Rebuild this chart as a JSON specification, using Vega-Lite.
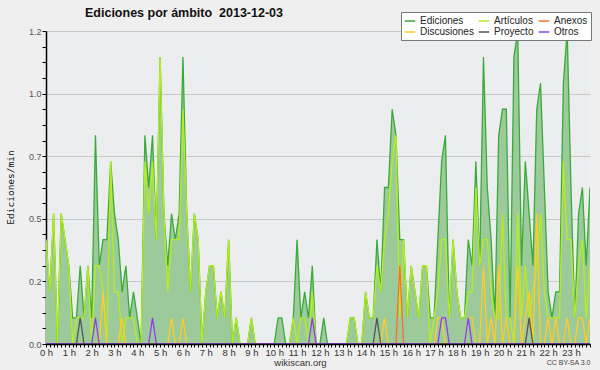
{
"$schema": "https://vega.github.io/schema/vega-lite/v6.json",
"width": 544, "height": 313,
"autosize": {"type": "none"},
"padding": {"left": 46, "top": 31, "right": 10, "bottom": 26},
"background": "#efefef",
"view": {"fill": "#ecedef", "stroke": null},
"title": {"text": "Ediciones por ámbito\u00a0 2013-12-03", "anchor": "start", "frame": "group", "dx": 39, "offset": -8, "font": "Liberation Sans", "fontSize": 12.5, "fontWeight": "bold", "color": "#111"},
"config": {"font": "Liberation Sans"},
"data": {"values": [
{"m":0,"Ediciones":0.4,"Artículos":0.4,"Discusiones":0,"Anexos":0,"Proyecto":0,"Otros":0},
{"m":10,"Ediciones":0.2,"Artículos":0.2,"Discusiones":0,"Anexos":0,"Proyecto":0,"Otros":0},
{"m":20,"Ediciones":0.5,"Artículos":0.5,"Discusiones":0,"Anexos":0,"Proyecto":0,"Otros":0},
{"m":30,"Ediciones":0,"Artículos":0,"Discusiones":0,"Anexos":0,"Proyecto":0,"Otros":0},
{"m":40,"Ediciones":0.5,"Artículos":0.5,"Discusiones":0,"Anexos":0,"Proyecto":0,"Otros":0},
{"m":50,"Ediciones":0.4,"Artículos":0.4,"Discusiones":0,"Anexos":0,"Proyecto":0,"Otros":0},
{"m":60,"Ediciones":0.3,"Artículos":0.3,"Discusiones":0,"Anexos":0,"Proyecto":0,"Otros":0},
{"m":70,"Ediciones":0.1,"Artículos":0,"Discusiones":0,"Anexos":0,"Proyecto":0,"Otros":0},
{"m":80,"Ediciones":0.1,"Artículos":0.1,"Discusiones":0,"Anexos":0,"Proyecto":0,"Otros":0},
{"m":90,"Ediciones":0.3,"Artículos":0.1,"Discusiones":0,"Anexos":0,"Proyecto":0.1,"Otros":0},
{"m":100,"Ediciones":0.1,"Artículos":0.1,"Discusiones":0,"Anexos":0,"Proyecto":0,"Otros":0},
{"m":110,"Ediciones":0.3,"Artículos":0.3,"Discusiones":0,"Anexos":0,"Proyecto":0,"Otros":0},
{"m":120,"Ediciones":0.1,"Artículos":0,"Discusiones":0,"Anexos":0,"Proyecto":0,"Otros":0},
{"m":130,"Ediciones":0.8,"Artículos":0.3,"Discusiones":0,"Anexos":0,"Proyecto":0,"Otros":0.1},
{"m":140,"Ediciones":0.3,"Artículos":0.3,"Discusiones":0,"Anexos":0,"Proyecto":0,"Otros":0},
{"m":150,"Ediciones":0.4,"Artículos":0.2,"Discusiones":0.2,"Anexos":0,"Proyecto":0,"Otros":0},
{"m":160,"Ediciones":0.4,"Artículos":0,"Discusiones":0,"Anexos":0,"Proyecto":0,"Otros":0},
{"m":170,"Ediciones":0.7,"Artículos":0.7,"Discusiones":0,"Anexos":0,"Proyecto":0,"Otros":0},
{"m":180,"Ediciones":0.5,"Artículos":0.2,"Discusiones":0,"Anexos":0,"Proyecto":0,"Otros":0},
{"m":190,"Ediciones":0.4,"Artículos":0.2,"Discusiones":0,"Anexos":0,"Proyecto":0,"Otros":0},
{"m":200,"Ediciones":0.2,"Artículos":0,"Discusiones":0.1,"Anexos":0,"Proyecto":0,"Otros":0},
{"m":210,"Ediciones":0.3,"Artículos":0.1,"Discusiones":0,"Anexos":0,"Proyecto":0,"Otros":0},
{"m":220,"Ediciones":0.1,"Artículos":0.1,"Discusiones":0,"Anexos":0,"Proyecto":0,"Otros":0},
{"m":230,"Ediciones":0.2,"Artículos":0.1,"Discusiones":0,"Anexos":0,"Proyecto":0,"Otros":0},
{"m":240,"Ediciones":0.1,"Artículos":0,"Discusiones":0,"Anexos":0,"Proyecto":0,"Otros":0},
{"m":250,"Ediciones":0,"Artículos":0,"Discusiones":0,"Anexos":0,"Proyecto":0,"Otros":0},
{"m":260,"Ediciones":0.8,"Artículos":0.7,"Discusiones":0,"Anexos":0,"Proyecto":0,"Otros":0},
{"m":270,"Ediciones":0.6,"Artículos":0.5,"Discusiones":0,"Anexos":0,"Proyecto":0,"Otros":0},
{"m":280,"Ediciones":0.8,"Artículos":0.7,"Discusiones":0,"Anexos":0,"Proyecto":0,"Otros":0.1},
{"m":290,"Ediciones":0.4,"Artículos":0.4,"Discusiones":0,"Anexos":0,"Proyecto":0,"Otros":0},
{"m":300,"Ediciones":1.1,"Artículos":1.1,"Discusiones":0,"Anexos":0,"Proyecto":0,"Otros":0},
{"m":310,"Ediciones":0.5,"Artículos":0.5,"Discusiones":0,"Anexos":0,"Proyecto":0,"Otros":0},
{"m":320,"Ediciones":0.3,"Artículos":0.2,"Discusiones":0,"Anexos":0,"Proyecto":0,"Otros":0},
{"m":330,"Ediciones":0.5,"Artículos":0.4,"Discusiones":0.1,"Anexos":0,"Proyecto":0,"Otros":0},
{"m":340,"Ediciones":0.4,"Artículos":0.4,"Discusiones":0,"Anexos":0,"Proyecto":0,"Otros":0},
{"m":350,"Ediciones":0.5,"Artículos":0.4,"Discusiones":0,"Anexos":0,"Proyecto":0,"Otros":0},
{"m":360,"Ediciones":1.1,"Artículos":0.9,"Discusiones":0.1,"Anexos":0,"Proyecto":0,"Otros":0},
{"m":370,"Ediciones":0.5,"Artículos":0.5,"Discusiones":0,"Anexos":0,"Proyecto":0,"Otros":0},
{"m":380,"Ediciones":0.2,"Artículos":0.2,"Discusiones":0,"Anexos":0,"Proyecto":0,"Otros":0},
{"m":390,"Ediciones":0.5,"Artículos":0.5,"Discusiones":0,"Anexos":0,"Proyecto":0,"Otros":0},
{"m":400,"Ediciones":0.4,"Artículos":0.4,"Discusiones":0,"Anexos":0,"Proyecto":0,"Otros":0},
{"m":410,"Ediciones":0,"Artículos":0,"Discusiones":0,"Anexos":0,"Proyecto":0,"Otros":0},
{"m":420,"Ediciones":0.2,"Artículos":0.2,"Discusiones":0,"Anexos":0,"Proyecto":0,"Otros":0},
{"m":430,"Ediciones":0.3,"Artículos":0.3,"Discusiones":0,"Anexos":0,"Proyecto":0,"Otros":0},
{"m":440,"Ediciones":0.3,"Artículos":0.3,"Discusiones":0,"Anexos":0,"Proyecto":0,"Otros":0},
{"m":450,"Ediciones":0.1,"Artículos":0.1,"Discusiones":0,"Anexos":0,"Proyecto":0,"Otros":0},
{"m":460,"Ediciones":0.2,"Artículos":0.2,"Discusiones":0,"Anexos":0,"Proyecto":0,"Otros":0},
{"m":470,"Ediciones":0.1,"Artículos":0.1,"Discusiones":0,"Anexos":0,"Proyecto":0,"Otros":0},
{"m":480,"Ediciones":0.4,"Artículos":0.4,"Discusiones":0,"Anexos":0,"Proyecto":0,"Otros":0},
{"m":490,"Ediciones":0,"Artículos":0,"Discusiones":0,"Anexos":0,"Proyecto":0,"Otros":0},
{"m":500,"Ediciones":0.1,"Artículos":0.1,"Discusiones":0,"Anexos":0,"Proyecto":0,"Otros":0},
{"m":510,"Ediciones":0,"Artículos":0,"Discusiones":0,"Anexos":0,"Proyecto":0,"Otros":0},
{"m":520,"Ediciones":0,"Artículos":0,"Discusiones":0,"Anexos":0,"Proyecto":0,"Otros":0},
{"m":530,"Ediciones":0,"Artículos":0,"Discusiones":0,"Anexos":0,"Proyecto":0,"Otros":0},
{"m":540,"Ediciones":0.1,"Artículos":0.1,"Discusiones":0,"Anexos":0,"Proyecto":0,"Otros":0},
{"m":550,"Ediciones":0,"Artículos":0,"Discusiones":0,"Anexos":0,"Proyecto":0,"Otros":0},
{"m":560,"Ediciones":0,"Artículos":0,"Discusiones":0,"Anexos":0,"Proyecto":0,"Otros":0},
{"m":570,"Ediciones":0,"Artículos":0,"Discusiones":0,"Anexos":0,"Proyecto":0,"Otros":0},
{"m":580,"Ediciones":0,"Artículos":0,"Discusiones":0,"Anexos":0,"Proyecto":0,"Otros":0},
{"m":590,"Ediciones":0,"Artículos":0,"Discusiones":0,"Anexos":0,"Proyecto":0,"Otros":0},
{"m":600,"Ediciones":0,"Artículos":0,"Discusiones":0,"Anexos":0,"Proyecto":0,"Otros":0},
{"m":610,"Ediciones":0.1,"Artículos":0,"Discusiones":0,"Anexos":0,"Proyecto":0,"Otros":0},
{"m":620,"Ediciones":0.1,"Artículos":0,"Discusiones":0,"Anexos":0,"Proyecto":0,"Otros":0},
{"m":630,"Ediciones":0,"Artículos":0,"Discusiones":0,"Anexos":0,"Proyecto":0,"Otros":0},
{"m":640,"Ediciones":0,"Artículos":0,"Discusiones":0,"Anexos":0,"Proyecto":0,"Otros":0},
{"m":650,"Ediciones":0.1,"Artículos":0.1,"Discusiones":0,"Anexos":0,"Proyecto":0,"Otros":0},
{"m":660,"Ediciones":0.4,"Artículos":0,"Discusiones":0,"Anexos":0,"Proyecto":0,"Otros":0},
{"m":670,"Ediciones":0.1,"Artículos":0.1,"Discusiones":0,"Anexos":0,"Proyecto":0,"Otros":0},
{"m":680,"Ediciones":0.2,"Artículos":0.1,"Discusiones":0,"Anexos":0,"Proyecto":0,"Otros":0},
{"m":690,"Ediciones":0.1,"Artículos":0,"Discusiones":0,"Anexos":0,"Proyecto":0,"Otros":0},
{"m":700,"Ediciones":0.3,"Artículos":0.2,"Discusiones":0,"Anexos":0,"Proyecto":0,"Otros":0.1},
{"m":710,"Ediciones":0,"Artículos":0,"Discusiones":0,"Anexos":0,"Proyecto":0,"Otros":0},
{"m":720,"Ediciones":0,"Artículos":0,"Discusiones":0,"Anexos":0,"Proyecto":0,"Otros":0},
{"m":730,"Ediciones":0.1,"Artículos":0,"Discusiones":0,"Anexos":0,"Proyecto":0,"Otros":0},
{"m":740,"Ediciones":0,"Artículos":0,"Discusiones":0,"Anexos":0,"Proyecto":0,"Otros":0},
{"m":750,"Ediciones":0,"Artículos":0,"Discusiones":0,"Anexos":0,"Proyecto":0,"Otros":0},
{"m":760,"Ediciones":0,"Artículos":0,"Discusiones":0,"Anexos":0,"Proyecto":0,"Otros":0},
{"m":770,"Ediciones":0,"Artículos":0,"Discusiones":0,"Anexos":0,"Proyecto":0,"Otros":0},
{"m":780,"Ediciones":0,"Artículos":0,"Discusiones":0,"Anexos":0,"Proyecto":0,"Otros":0},
{"m":790,"Ediciones":0,"Artículos":0,"Discusiones":0,"Anexos":0,"Proyecto":0,"Otros":0},
{"m":800,"Ediciones":0.1,"Artículos":0.1,"Discusiones":0,"Anexos":0,"Proyecto":0,"Otros":0},
{"m":810,"Ediciones":0.1,"Artículos":0.1,"Discusiones":0,"Anexos":0,"Proyecto":0,"Otros":0},
{"m":820,"Ediciones":0,"Artículos":0,"Discusiones":0,"Anexos":0,"Proyecto":0,"Otros":0},
{"m":830,"Ediciones":0,"Artículos":0,"Discusiones":0,"Anexos":0,"Proyecto":0,"Otros":0},
{"m":840,"Ediciones":0.2,"Artículos":0.2,"Discusiones":0,"Anexos":0,"Proyecto":0,"Otros":0},
{"m":850,"Ediciones":0.1,"Artículos":0.1,"Discusiones":0,"Anexos":0,"Proyecto":0,"Otros":0},
{"m":860,"Ediciones":0.1,"Artículos":0.1,"Discusiones":0,"Anexos":0,"Proyecto":0,"Otros":0},
{"m":870,"Ediciones":0.4,"Artículos":0.3,"Discusiones":0,"Anexos":0,"Proyecto":0.1,"Otros":0},
{"m":880,"Ediciones":0.2,"Artículos":0.2,"Discusiones":0,"Anexos":0,"Proyecto":0,"Otros":0},
{"m":890,"Ediciones":0.6,"Artículos":0.4,"Discusiones":0.1,"Anexos":0,"Proyecto":0,"Otros":0},
{"m":900,"Ediciones":0.6,"Artículos":0.5,"Discusiones":0,"Anexos":0,"Proyecto":0,"Otros":0},
{"m":910,"Ediciones":0.9,"Artículos":0.7,"Discusiones":0,"Anexos":0,"Proyecto":0,"Otros":0},
{"m":920,"Ediciones":0.8,"Artículos":0.8,"Discusiones":0,"Anexos":0,"Proyecto":0,"Otros":0},
{"m":930,"Ediciones":0.4,"Artículos":0.1,"Discusiones":0,"Anexos":0.3,"Proyecto":0,"Otros":0},
{"m":940,"Ediciones":0.4,"Artículos":0.4,"Discusiones":0,"Anexos":0,"Proyecto":0,"Otros":0},
{"m":950,"Ediciones":0.1,"Artículos":0.1,"Discusiones":0,"Anexos":0,"Proyecto":0,"Otros":0},
{"m":960,"Ediciones":0.3,"Artículos":0.3,"Discusiones":0,"Anexos":0,"Proyecto":0,"Otros":0},
{"m":970,"Ediciones":0.2,"Artículos":0.2,"Discusiones":0,"Anexos":0,"Proyecto":0,"Otros":0},
{"m":980,"Ediciones":0.1,"Artículos":0.1,"Discusiones":0,"Anexos":0,"Proyecto":0,"Otros":0},
{"m":990,"Ediciones":0.3,"Artículos":0.3,"Discusiones":0,"Anexos":0,"Proyecto":0,"Otros":0},
{"m":1000,"Ediciones":0.3,"Artículos":0.3,"Discusiones":0,"Anexos":0,"Proyecto":0,"Otros":0},
{"m":1010,"Ediciones":0.1,"Artículos":0,"Discusiones":0,"Anexos":0,"Proyecto":0,"Otros":0},
{"m":1020,"Ediciones":0.1,"Artículos":0.1,"Discusiones":0,"Anexos":0,"Proyecto":0,"Otros":0},
{"m":1030,"Ediciones":0.4,"Artículos":0.2,"Discusiones":0.1,"Anexos":0,"Proyecto":0,"Otros":0},
{"m":1040,"Ediciones":0.7,"Artículos":0.4,"Discusiones":0.1,"Anexos":0,"Proyecto":0,"Otros":0.1},
{"m":1050,"Ediciones":0.8,"Artículos":0.4,"Discusiones":0,"Anexos":0,"Proyecto":0,"Otros":0.1},
{"m":1060,"Ediciones":0.1,"Artículos":0.1,"Discusiones":0,"Anexos":0,"Proyecto":0,"Otros":0},
{"m":1070,"Ediciones":0.4,"Artículos":0.4,"Discusiones":0,"Anexos":0,"Proyecto":0,"Otros":0},
{"m":1080,"Ediciones":0.2,"Artículos":0.2,"Discusiones":0,"Anexos":0,"Proyecto":0,"Otros":0},
{"m":1090,"Ediciones":0.1,"Artículos":0.1,"Discusiones":0,"Anexos":0,"Proyecto":0,"Otros":0},
{"m":1100,"Ediciones":0.1,"Artículos":0.1,"Discusiones":0,"Anexos":0,"Proyecto":0,"Otros":0},
{"m":1110,"Ediciones":0.4,"Artículos":0.2,"Discusiones":0.1,"Anexos":0,"Proyecto":0,"Otros":0.1},
{"m":1120,"Ediciones":0.3,"Artículos":0.2,"Discusiones":0.1,"Anexos":0,"Proyecto":0,"Otros":0},
{"m":1130,"Ediciones":0.7,"Artículos":0.6,"Discusiones":0,"Anexos":0,"Proyecto":0,"Otros":0},
{"m":1140,"Ediciones":0.3,"Artículos":0.3,"Discusiones":0,"Anexos":0,"Proyecto":0,"Otros":0},
{"m":1150,"Ediciones":1.1,"Artículos":0.4,"Discusiones":0.3,"Anexos":0,"Proyecto":0,"Otros":0},
{"m":1160,"Ediciones":0.6,"Artículos":0.4,"Discusiones":0,"Anexos":0,"Proyecto":0,"Otros":0},
{"m":1170,"Ediciones":0.4,"Artículos":0.2,"Discusiones":0.1,"Anexos":0,"Proyecto":0,"Otros":0},
{"m":1180,"Ediciones":0.1,"Artículos":0.1,"Discusiones":0,"Anexos":0,"Proyecto":0,"Otros":0},
{"m":1190,"Ediciones":0.8,"Artículos":0.1,"Discusiones":0.3,"Anexos":0,"Proyecto":0,"Otros":0},
{"m":1200,"Ediciones":0.9,"Artículos":0.5,"Discusiones":0,"Anexos":0,"Proyecto":0,"Otros":0},
{"m":1210,"Ediciones":0.9,"Artículos":0.1,"Discusiones":0.1,"Anexos":0,"Proyecto":0,"Otros":0},
{"m":1220,"Ediciones":0.1,"Artículos":0.1,"Discusiones":0,"Anexos":0,"Proyecto":0,"Otros":0},
{"m":1230,"Ediciones":1.1,"Artículos":0,"Discusiones":0,"Anexos":0,"Proyecto":0,"Otros":0},
{"m":1240,"Ediciones":1.2,"Artículos":0.5,"Discusiones":0.3,"Anexos":0,"Proyecto":0,"Otros":0},
{"m":1250,"Ediciones":0.3,"Artículos":0.1,"Discusiones":0,"Anexos":0,"Proyecto":0,"Otros":0},
{"m":1260,"Ediciones":0.7,"Artículos":0.3,"Discusiones":0.1,"Anexos":0,"Proyecto":0,"Otros":0},
{"m":1270,"Ediciones":0.5,"Artículos":0.1,"Discusiones":0.2,"Anexos":0,"Proyecto":0.1,"Otros":0},
{"m":1280,"Ediciones":0.3,"Artículos":0.2,"Discusiones":0,"Anexos":0,"Proyecto":0,"Otros":0},
{"m":1290,"Ediciones":0.9,"Artículos":0.3,"Discusiones":0.5,"Anexos":0,"Proyecto":0,"Otros":0},
{"m":1300,"Ediciones":1.0,"Artículos":0.5,"Discusiones":0,"Anexos":0,"Proyecto":0,"Otros":0},
{"m":1310,"Ediciones":0.6,"Artículos":0.2,"Discusiones":0,"Anexos":0,"Proyecto":0,"Otros":0},
{"m":1320,"Ediciones":0.2,"Artículos":0.1,"Discusiones":0.1,"Anexos":0,"Proyecto":0,"Otros":0},
{"m":1330,"Ediciones":0.1,"Artículos":0.1,"Discusiones":0,"Anexos":0,"Proyecto":0,"Otros":0},
{"m":1340,"Ediciones":0.2,"Artículos":0.1,"Discusiones":0.1,"Anexos":0,"Proyecto":0,"Otros":0},
{"m":1350,"Ediciones":0.2,"Artículos":0.1,"Discusiones":0,"Anexos":0,"Proyecto":0,"Otros":0},
{"m":1360,"Ediciones":1.0,"Artículos":0.7,"Discusiones":0,"Anexos":0,"Proyecto":0,"Otros":0},
{"m":1370,"Ediciones":1.2,"Artículos":0.4,"Discusiones":0.1,"Anexos":0,"Proyecto":0,"Otros":0},
{"m":1380,"Ediciones":0.6,"Artículos":0.4,"Discusiones":0,"Anexos":0,"Proyecto":0,"Otros":0},
{"m":1390,"Ediciones":0.1,"Artículos":0.1,"Discusiones":0,"Anexos":0,"Proyecto":0,"Otros":0},
{"m":1400,"Ediciones":0.5,"Artículos":0.3,"Discusiones":0.1,"Anexos":0,"Proyecto":0,"Otros":0},
{"m":1410,"Ediciones":0.6,"Artículos":0.4,"Discusiones":0.1,"Anexos":0,"Proyecto":0,"Otros":0},
{"m":1420,"Ediciones":0.3,"Artículos":0.1,"Discusiones":0,"Anexos":0,"Proyecto":0,"Otros":0},
{"m":1430,"Ediciones":0.6,"Artículos":0.3,"Discusiones":0.1,"Anexos":0,"Proyecto":0,"Otros":0}
]},
"encoding": {
  "x": {"field": "m", "type": "quantitative",
    "scale": {"domain": [0, 1430], "nice": false, "zero": false},
    "axis": {
      "values": [0,10,20,30,40,50,60,70,80,90,100,110,120,130,140,150,160,170,180,190,200,210,220,230,240,250,260,270,280,290,300,310,320,330,340,350,360,370,380,390,400,410,420,430,440,450,460,470,480,490,500,510,520,530,540,550,560,570,580,590,600,610,620,630,640,650,660,670,680,690,700,710,720,730,740,750,760,770,780,790,800,810,820,830,840,850,860,870,880,890,900,910,920,930,940,950,960,970,980,990,1000,1010,1020,1030,1040,1050,1060,1070,1080,1090,1100,1110,1120,1130,1140,1150,1160,1170,1180,1190,1200,1210,1220,1230,1240,1250,1260,1270,1280,1290,1300,1310,1320,1330,1340,1350,1360,1370,1380,1390,1400,1410,1420,1430],
      "labelExpr": "datum.value % 60 == 0 ? (datum.value / 60) + ' h' : ''",
      "labelOverlap": false, "labelFlush": false, "grid": false,
      "tickSize": 3, "tickColor": "#000", "tickWidth": 1,
      "domainColor": "#000", "domainWidth": 1.5,
      "labelFont": "Liberation Sans", "labelFontSize": 9.5, "labelColor": "#333", "labelPadding": 0,
      "title": "wikiscan.org", "titleFont": "Liberation Sans", "titleFontSize": 9.5, "titleFontWeight": "normal", "titleColor": "#333",
      "titleX": 254, "titleY": 18, "titleBaseline": "middle", "titleAlign": "center",
      "zindex": 1
    }
  }
},
"layer": [
  {
    "mark": {"type": "area", "color": "#9dca9b", "opacity": 1, "clip": true},
    "encoding": {
      "y": {"field": "Ediciones", "type": "quantitative",
        "scale": {"domain": [0, 1.2], "nice": false, "zero": true},
        "axis": {
          "orient": "left",
          "values": [0,0.06,0.12,0.18,0.24,0.3,0.36,0.42,0.48,0.54,0.6,0.66,0.72,0.78,0.84,0.9,0.96,1.02,1.08,1.14,1.2],
          "labelExpr": "round(datum.value * 100) % 24 == 0 ? format(datum.value, '.1f') : ''",
          "labelOverlap": false, "labelFlush": false,
          "grid": true, "gridColor": "#c8c8c8", "gridWidth": 1,
          "gridOpacity": {"condition": {"test": "round(datum.value * 100) % 24 == 0", "value": 1}, "value": 0},
          "tickSize": 4, "tickColor": "#000",
          "domainColor": "#000", "domainWidth": 1.5,
          "labelFont": "Liberation Sans", "labelFontSize": 9, "labelColor": "#555", "labelPadding": 1,
          "title": "Ediciones/min", "titleFont": "DejaVu Sans Mono", "titleFontSize": 9.5, "titleFontWeight": "normal", "titleColor": "#111",
          "titleX": -36, "titleY": 156, "titleAngle": -90, "titleAlign": "center", "titleBaseline": "middle"
        }
      }
    }
  },
  {
    "transform": [{"fold": ["Ediciones", "Artículos", "Discusiones", "Anexos", "Proyecto", "Otros"], "as": ["serie", "v"]}],
    "mark": {"type": "line", "strokeWidth": 1.3, "clip": true},
    "encoding": {
      "y": {"field": "v", "type": "quantitative",
        "scale": {"domain": [0, 1.2], "nice": false, "zero": true},
        "axis": {
          "orient": "right", "domain": false, "ticks": false, "labels": false, "grid": false,
          "title": "CC BY-SA 3.0", "titleFont": "Liberation Sans", "titleFontSize": 7, "titleFontWeight": "normal", "titleColor": "#444",
          "titleAngle": 0, "titleX": 0, "titleY": 331, "titleAlign": "right", "titleBaseline": "middle"
        }
      },
      "color": {"field": "serie", "type": "nominal",
        "scale": {"domain": ["Ediciones", "Discusiones", "Artículos", "Proyecto", "Anexos", "Otros"],
                  "range": ["#3aaa3a", "#ffcc22", "#b4ee1c", "#555555", "#ff6a33", "#8a3ff0"]},
        "legend": {
          "orient": "none", "legendX": 355, "legendY": -19, "columns": 3, "title": null,
          "symbolType": "stroke", "symbolSize": 110, "symbolStrokeWidth": 1.5,
          "labelFont": "Liberation Sans", "labelFontSize": 10, "labelColor": "#222",
          "fillColor": "#ffffff", "strokeColor": "#777", "padding": 3,
          "rowPadding": 0, "columnPadding": 1, "labelOffset": 4
        }
      }
    }
  }
],
"resolve": {"axis": {"y": "independent"}}
}
